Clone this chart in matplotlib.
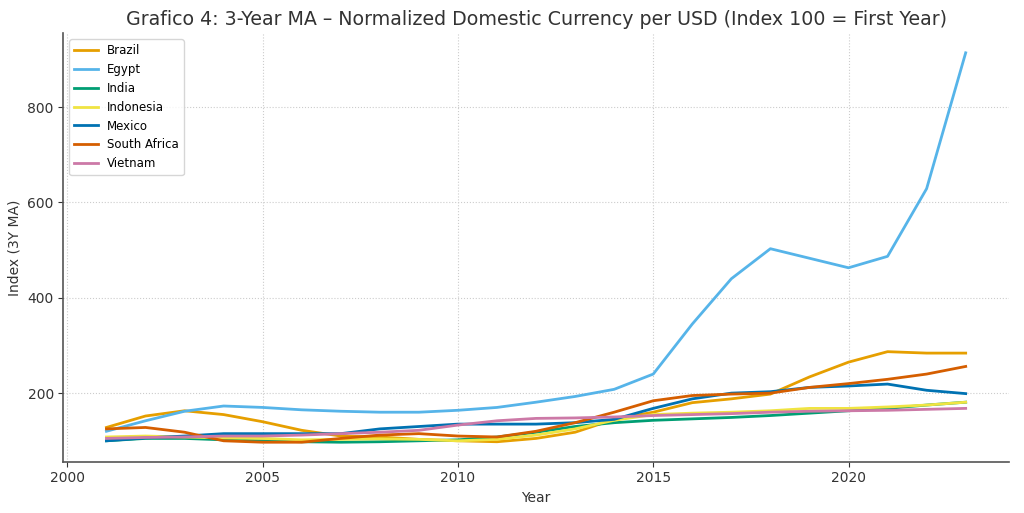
import matplotlib.pyplot as plt

## Dados ##
anos = list(range(2001, 2024))

brazil = [128, 152, 163, 155, 140, 122, 110, 108, 103, 100, 98, 105, 118, 145,
          160, 180, 188, 198, 234, 265, 287, 284, 284]
egypt = [120, 142, 162, 173, 170, 165, 162, 160, 160, 164, 170, 181, 193, 208,
         240, 345, 440, 503, 483, 463, 487, 629, 914]
india = [100, 105, 105, 102, 100, 98, 97, 98, 100, 102, 108, 118, 130, 138,
         143, 146, 149, 153, 158, 163, 168, 175, 181]
indonesia = [108, 110, 108, 106, 105, 102, 103, 104, 103, 100, 103, 112, 125, 143,
             155, 158, 160, 163, 168, 168, 171, 175, 181]
mexico = [100, 106, 110, 115, 115, 115, 115, 125, 130, 135, 135, 135, 138, 145,
          168, 188, 200, 203, 212, 215, 219, 206, 199]
south_africa = [125, 128, 118, 100, 97, 97, 105, 112, 115, 110, 108, 120, 138, 160,
                184, 195, 198, 200, 212, 220, 229, 240, 256]
vietnam = [105, 107, 108, 110, 110, 112, 115, 118, 122, 133, 142, 147, 148, 150,
           153, 155, 157, 160, 162, 163, 164, 166, 168]

paises = ['Brazil', 'Egypt', 'India', 'Indonesia', 'Mexico', 'South Africa', 'Vietnam']
series = [brazil, egypt, india, indonesia, mexico, south_africa, vietnam]
cores = ['#E69F00', '#56B4E9', '#009E73', '#F0E442', '#0072B2', '#D55E00', '#CC79A7']

## Grafico ##
fig, ax = plt.subplots(figsize=(10.24, 5.13), dpi=100)
for nome, valores, cor in zip(paises, series, cores):
    ax.plot(anos, valores, color=cor, linewidth=2, label=nome)

ax.set_title('Grafico 4: 3-Year MA – Normalized Domestic Currency per USD (Index 100 = First Year)',
             fontsize=13.7, color='#333333')
ax.set_xlabel('Year', color='#333333')
ax.set_ylabel('Index (3Y MA)', color='#333333')
ax.set_xticks([2000, 2005, 2010, 2015, 2020])
ax.set_yticks([200, 400, 600, 800])
ax.grid(True, linestyle=':', color='#cccccc', linewidth=0.8)
ax.spines['top'].set_visible(False)
ax.spines['right'].set_visible(False)
ax.spines['left'].set_color('#555555')
ax.spines['bottom'].set_color('#555555')
ax.spines['left'].set_linewidth(1.2)
ax.spines['bottom'].set_linewidth(1.2)
ax.tick_params(colors='#333333')
ax.legend(loc='upper left', fontsize=8.5, framealpha=0.8)

plt.subplots_adjust(left=0.062, right=0.985, top=0.935, bottom=0.1)
plt.savefig('out.png')
